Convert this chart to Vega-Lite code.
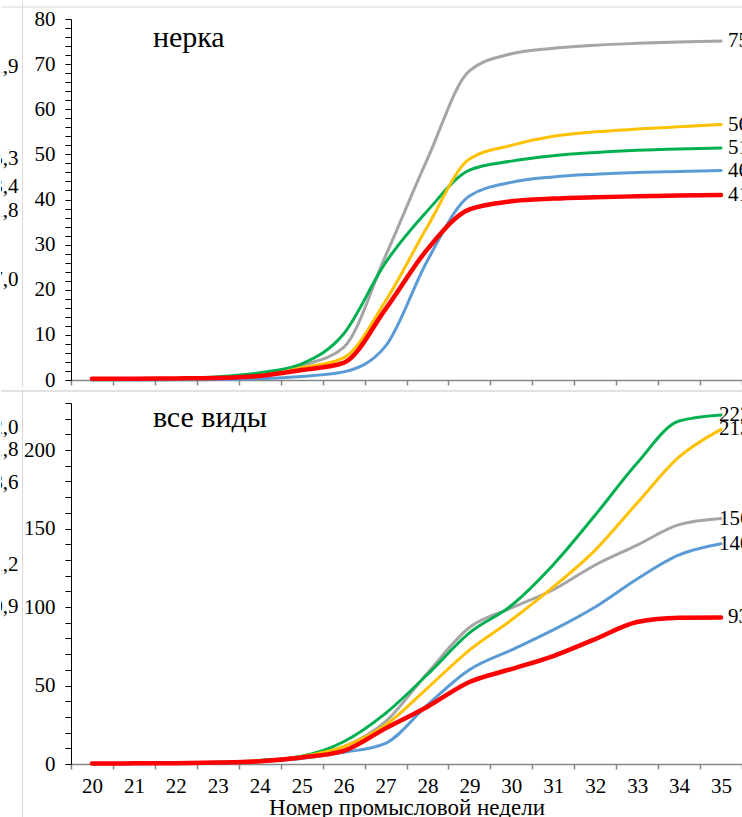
{
  "$schema": "https://vega.github.io/schema/vega-lite/v6.json",
  "padding": 0,
  "background": "white",
  "spacing": 0,
  "config": {
    "view": {"stroke": null},
    "font": "Liberation Serif",
    "locale": {"number": {"decimal": ",", "thousands": " ", "grouping": [3], "currency": ["", ""]}},
    "axis": {"grid": false, "labelFont": "Liberation Serif", "titleFont": "Liberation Serif", "labelColor": "black", "titleColor": "black", "titleFontWeight": "normal"},
    "text": {"font": "Liberation Serif", "fontSize": 21, "color": "black"}
  },
  "datasets": {
    "nerka": [
      {"series":"A","week":20,"v":0.1},{"series":"A","week":21,"v":0.15},{"series":"A","week":22,"v":0.25},{"series":"A","week":23,"v":0.45},{"series":"A","week":24,"v":1.1},{"series":"A","week":25,"v":3.2},{"series":"A","week":26,"v":7.2},{"series":"A","week":27,"v":27.5},{"series":"A","week":28,"v":49},{"series":"A","week":29,"v":68.5},{"series":"A","week":30,"v":72.3},{"series":"A","week":31,"v":73.5},{"series":"A","week":32,"v":74.2},{"series":"A","week":33,"v":74.6},{"series":"A","week":34,"v":74.9},{"series":"A","week":35,"v":75.1},
      {"series":"B","week":20,"v":0.1},{"series":"B","week":21,"v":0.2},{"series":"B","week":22,"v":0.35},{"series":"B","week":23,"v":0.7},{"series":"B","week":24,"v":1.6},{"series":"B","week":25,"v":3.6},{"series":"B","week":26,"v":10.2},{"series":"B","week":27,"v":26},{"series":"B","week":28,"v":37.5},{"series":"B","week":29,"v":46.5},{"series":"B","week":30,"v":48.5},{"series":"B","week":31,"v":49.7},{"series":"B","week":32,"v":50.4},{"series":"B","week":33,"v":50.9},{"series":"B","week":34,"v":51.2},{"series":"B","week":35,"v":51.4},
      {"series":"C","week":20,"v":0.05},{"series":"C","week":21,"v":0.1},{"series":"C","week":22,"v":0.2},{"series":"C","week":23,"v":0.4},{"series":"C","week":24,"v":0.9},{"series":"C","week":25,"v":2.7},{"series":"C","week":26,"v":4.9},{"series":"C","week":27,"v":17.5},{"series":"C","week":28,"v":34},{"series":"C","week":29,"v":49},{"series":"C","week":30,"v":52},{"series":"C","week":31,"v":54},{"series":"C","week":32,"v":55},{"series":"C","week":33,"v":55.6},{"series":"C","week":34,"v":56.1},{"series":"C","week":35,"v":56.6},
      {"series":"D","week":20,"v":0},{"series":"D","week":21,"v":0},{"series":"D","week":22,"v":0.05},{"series":"D","week":23,"v":0.1},{"series":"D","week":24,"v":0.3},{"series":"D","week":25,"v":0.8},{"series":"D","week":26,"v":1.8},{"series":"D","week":27,"v":7.5},{"series":"D","week":28,"v":26.5},{"series":"D","week":29,"v":40.8},{"series":"D","week":30,"v":43.8},{"series":"D","week":31,"v":45},{"series":"D","week":32,"v":45.6},{"series":"D","week":33,"v":46},{"series":"D","week":34,"v":46.2},{"series":"D","week":35,"v":46.4},
      {"series":"E","week":20,"v":0.3},{"series":"E","week":21,"v":0.3},{"series":"E","week":22,"v":0.35},{"series":"E","week":23,"v":0.45},{"series":"E","week":24,"v":0.9},{"series":"E","week":25,"v":2.2},{"series":"E","week":26,"v":3.8},{"series":"E","week":27,"v":15.7},{"series":"E","week":28,"v":29},{"series":"E","week":29,"v":37.8},{"series":"E","week":30,"v":39.6},{"series":"E","week":31,"v":40.2},{"series":"E","week":32,"v":40.5},{"series":"E","week":33,"v":40.7},{"series":"E","week":34,"v":40.9},{"series":"E","week":35,"v":41.0}
    ],
    "vse": [
      {"series":"A","week":20,"v":0.2},{"series":"A","week":21,"v":0.3},{"series":"A","week":22,"v":0.5},{"series":"A","week":23,"v":1.0},{"series":"A","week":24,"v":2.0},{"series":"A","week":25,"v":4.7},{"series":"A","week":26,"v":11},{"series":"A","week":27,"v":27},{"series":"A","week":28,"v":58},{"series":"A","week":29,"v":87},{"series":"A","week":30,"v":99.4},{"series":"A","week":31,"v":111},{"series":"A","week":32,"v":126.8},{"series":"A","week":33,"v":139.5},{"series":"A","week":34,"v":152.5},{"series":"A","week":35,"v":156.4},
      {"series":"B","week":20,"v":0.2},{"series":"B","week":21,"v":0.3},{"series":"B","week":22,"v":0.5},{"series":"B","week":23,"v":1.1},{"series":"B","week":24,"v":2.3},{"series":"B","week":25,"v":5},{"series":"B","week":26,"v":14.2},{"series":"B","week":27,"v":32.3},{"series":"B","week":28,"v":57},{"series":"B","week":29,"v":83.5},{"series":"B","week":30,"v":101},{"series":"B","week":31,"v":127},{"series":"B","week":32,"v":158.6},{"series":"B","week":33,"v":191.8},{"series":"B","week":34,"v":218.5},{"series":"B","week":35,"v":222.3},
      {"series":"C","week":20,"v":0.2},{"series":"C","week":21,"v":0.3},{"series":"C","week":22,"v":0.5},{"series":"C","week":23,"v":1.0},{"series":"C","week":24,"v":2.0},{"series":"C","week":25,"v":4.7},{"series":"C","week":26,"v":11},{"series":"C","week":27,"v":24.8},{"series":"C","week":28,"v":48.4},{"series":"C","week":29,"v":72.6},{"series":"C","week":30,"v":91.7},{"series":"C","week":31,"v":112.8},{"series":"C","week":32,"v":136.3},{"series":"C","week":33,"v":166.3},{"series":"C","week":34,"v":195.6},{"series":"C","week":35,"v":213.2},
      {"series":"D","week":20,"v":0.1},{"series":"D","week":21,"v":0.2},{"series":"D","week":22,"v":0.3},{"series":"D","week":23,"v":0.6},{"series":"D","week":24,"v":1.4},{"series":"D","week":25,"v":3.5},{"series":"D","week":26,"v":7.4},{"series":"D","week":27,"v":13.2},{"series":"D","week":28,"v":37.6},{"series":"D","week":29,"v":60},{"series":"D","week":30,"v":72.6},{"series":"D","week":31,"v":85.4},{"series":"D","week":32,"v":100},{"series":"D","week":33,"v":117.9},{"series":"D","week":34,"v":133.2},{"series":"D","week":35,"v":140.3},
      {"series":"E","week":20,"v":0.3},{"series":"E","week":21,"v":0.4},{"series":"E","week":22,"v":0.5},{"series":"E","week":23,"v":0.9},{"series":"E","week":24,"v":1.8},{"series":"E","week":25,"v":4.2},{"series":"E","week":26,"v":8.3},{"series":"E","week":27,"v":22.7},{"series":"E","week":28,"v":36.5},{"series":"E","week":29,"v":52.2},{"series":"E","week":30,"v":60.5},{"series":"E","week":31,"v":68.8},{"series":"E","week":32,"v":79.6},{"series":"E","week":33,"v":90.5},{"series":"E","week":34,"v":93.2},{"series":"E","week":35,"v":93.4}
    ],
    "sosed_top": [
      {"t":"71,9","pos":69.4},{"t":"55,3","pos":49.0},{"t":"43,4","pos":42.8},{"t":"41,8","pos":37.5},{"t":"27,0","pos":22.2}
    ],
    "sosed_bottom": [
      {"t":"212,0","pos":214.1},{"t":"201,8","pos":200.1},{"t":"178,6","pos":179.0},{"t":"131,2","pos":126.8},{"t":"100,9","pos":100.0}
    ],
    "one": [{"k":1}],
    "t_top": [{"name":"нерка","week":22,"pos":73.8}],
    "t_bottom": [{"name":"все виды","week":22,"pos":214.4}]
  },
  "vconcat": [
    {
      "width": 742,
      "height": 386,
      "resolve": {"scale": {"x": "independent"}, "axis": {"x": "independent"}},
      "layer": [
        {"layer": [
          {"data": {"name": "nerka"}, "mark": {"type": "line", "interpolate": "monotone", "strokeWidth": 3, "strokeCap": "round", "strokeJoin": "round"},
           "transform": [{"filter": "datum.series !== 'E'"}],
           "encoding": {
             "x": {"field": "week", "type": "ordinal", "scale": {"type": "band", "domain": [20,21,22,23,24,25,26,27,28,29,30,31,32,33,34,35], "range": [70, 741], "paddingInner": 0, "paddingOuter": 0},
                   "axis": {"orient": "bottom", "offset": -7, "tickBand": "extent", "labels": false, "title": null, "domainColor": "#868686", "tickColor": "#868686", "domainWidth": 1.5, "tickWidth": 1.5, "tickSize": 5}},
             "y": {"field": "v", "type": "quantitative", "scale": {"domain": [0, 80], "range": [379, 18], "nice": false, "zero": false},
                   "axis": {"orient": "left", "offset": -70, "tickCount": 200, "format": "d", "values": [0,2,4,6,8,10,12,14,16,18,20,22,24,26,28,30,32,34,36,38,40,42,44,46,48,50,52,54,56,58,60,62,64,66,68,70,72,74,76,78,80],
                            "labelExpr": "datum.value % 10 === 0 ? datum.label : ''", "labelOverlap": false, "domainColor": "black", "tickColor": "black", "tickSize": 6, "labelFontSize": 21, "labelPadding": 10, "title": null}},
             "color": {"field": "series", "type": "nominal", "scale": {"domain": ["A","B","C","D","E"], "range": ["#A5A5A5","#00B050","#FFC000","#5B9BD5","#FF0000"]}, "legend": null}
           }},
          {"data": {"name": "nerka"}, "mark": {"type": "line", "interpolate": "monotone", "strokeWidth": 4.5, "strokeCap": "round", "strokeJoin": "round"},
           "transform": [{"filter": "datum.series === 'E'"}],
           "encoding": {
             "x": {"field": "week", "type": "ordinal"},
             "y": {"field": "v", "type": "quantitative"},
             "color": {"field": "series", "type": "nominal", "legend": null}
           }},
          {"data": {"name": "nerka"}, "mark": {"type": "text", "align": "left", "baseline": "middle", "dx": 7, "clip": true, "fontSize": 21},
           "transform": [{"filter": "datum.week === 35"}],
           "encoding": {
             "x": {"field": "week", "type": "ordinal"},
             "y": {"field": "v", "type": "quantitative"},
             "text": {"field": "v", "type": "quantitative", "format": ".1f"}
           }},
          {"data": {"name": "t_top"}, "mark": {"type": "text", "align": "left", "baseline": "alphabetic", "dx": -2, "fontSize": 30},
           "encoding": {
             "x": {"field": "week", "type": "ordinal", "bandPosition": 0},
             "y": {"field": "pos", "type": "quantitative"},
             "text": {"field": "name", "type": "nominal"}
           }}
        ]},
        {"data": {"name": "one"}, "mark": {"type": "rule", "color": "#D9D9D9", "strokeWidth": 1},
         "encoding": {"y": {"datum": 82.66, "type": "quantitative"}}},
        {"data": {"name": "one"}, "mark": {"type": "rule", "color": "#D9D9D9", "strokeWidth": 1},
         "encoding": {"x": {"datum": 1, "type": "quantitative", "scale": {"domain": [0, 1], "range": [0, 21.5]}, "axis": null}}},
        {"data": {"name": "sosed_top"}, "mark": {"type": "text", "align": "right", "baseline": "middle", "dx": -4, "clip": true, "fontSize": 21},
         "encoding": {"x": {"datum": 1, "type": "quantitative", "scale": {"domain": [0, 1], "range": [0, 21.5]}, "axis": null},
                      "y": {"field": "pos", "type": "quantitative"},
                      "text": {"field": "t", "type": "nominal"}}}
      ]
    },
    {
      "width": 742,
      "height": 431,
      "resolve": {"scale": {"x": "independent"}, "axis": {"x": "independent"}},
      "layer": [
        {"layer": [
          {"data": {"name": "vse"}, "mark": {"type": "line", "interpolate": "monotone", "strokeWidth": 3, "strokeCap": "round", "strokeJoin": "round"},
           "transform": [{"filter": "datum.series !== 'E'"}],
           "encoding": {
             "x": {"field": "week", "type": "ordinal", "scale": {"type": "band", "domain": [20,21,22,23,24,25,26,27,28,29,30,31,32,33,34,35], "range": [70, 741], "paddingInner": 0, "paddingOuter": 0},
                   "axis": {"orient": "bottom", "offset": -58, "tickBand": "extent", "labelAngle": 0, "labelFontSize": 21, "labelPadding": 6, "title": "Номер промысловой недели", "titleFontSize": 23, "titlePadding": 0, "domainColor": "#868686", "tickColor": "#868686", "domainWidth": 1.5, "tickWidth": 1.5, "tickSize": 5}},
             "y": {"field": "v", "type": "quantitative", "scale": {"domain": [0, 230], "range": [373, 12], "nice": false, "zero": false},
                   "axis": {"orient": "left", "offset": -70, "tickCount": 200, "format": "d", "values": [0,10,20,30,40,50,60,70,80,90,100,110,120,130,140,150,160,170,180,190,200,210,220,230],
                            "labelExpr": "datum.value % 50 === 0 ? datum.label : ''", "labelOverlap": false, "domainColor": "black", "tickColor": "black", "tickSize": 6, "labelFontSize": 21, "labelPadding": 10, "title": null}},
             "color": {"field": "series", "type": "nominal", "scale": {"domain": ["A","B","C","D","E"], "range": ["#A5A5A5","#00B050","#FFC000","#5B9BD5","#FF0000"]}, "legend": null}
           }},
          {"data": {"name": "vse"}, "mark": {"type": "line", "interpolate": "monotone", "strokeWidth": 4.5, "strokeCap": "round", "strokeJoin": "round"},
           "transform": [{"filter": "datum.series === 'E'"}],
           "encoding": {
             "x": {"field": "week", "type": "ordinal"},
             "y": {"field": "v", "type": "quantitative"},
             "color": {"field": "series", "type": "nominal", "legend": null}
           }},
          {"data": {"name": "vse"}, "mark": {"type": "text", "align": "left", "baseline": "middle", "dx": -2, "clip": true, "fontSize": 21},
           "transform": [{"filter": "datum.week === 35 && datum.v >= 100"}],
           "encoding": {
             "x": {"field": "week", "type": "ordinal"},
             "y": {"field": "v", "type": "quantitative"},
             "text": {"field": "v", "type": "quantitative", "format": ".1f"}
           }},
          {"data": {"name": "vse"}, "mark": {"type": "text", "align": "left", "baseline": "middle", "dx": 7, "clip": true, "fontSize": 21},
           "transform": [{"filter": "datum.week === 35 && datum.v < 100"}],
           "encoding": {
             "x": {"field": "week", "type": "ordinal"},
             "y": {"field": "v", "type": "quantitative"},
             "text": {"field": "v", "type": "quantitative", "format": ".1f"}
           }},
          {"data": {"name": "t_bottom"}, "mark": {"type": "text", "align": "left", "baseline": "alphabetic", "dx": -2, "fontSize": 30},
           "encoding": {
             "x": {"field": "week", "type": "ordinal", "bandPosition": 0},
             "y": {"field": "pos", "type": "quantitative"},
             "text": {"field": "name", "type": "nominal"}
           }}
        ]},
        {"data": {"name": "one"}, "mark": {"type": "rule", "color": "#D9D9D9", "strokeWidth": 1.5},
         "encoding": {"y": {"datum": 237.65, "type": "quantitative"}}},
        {"data": {"name": "one"}, "mark": {"type": "rule", "color": "#D9D9D9", "strokeWidth": 1},
         "encoding": {"x": {"datum": 1, "type": "quantitative", "scale": {"domain": [0, 1], "range": [0, 21.5]}, "axis": null}}},
        {"data": {"name": "sosed_bottom"}, "mark": {"type": "text", "align": "right", "baseline": "middle", "dx": -4, "clip": true, "fontSize": 21},
         "encoding": {"x": {"datum": 1, "type": "quantitative", "scale": {"domain": [0, 1], "range": [0, 21.5]}, "axis": null},
                      "y": {"field": "pos", "type": "quantitative"},
                      "text": {"field": "t", "type": "nominal"}}}
      ]
    }
  ]
}
